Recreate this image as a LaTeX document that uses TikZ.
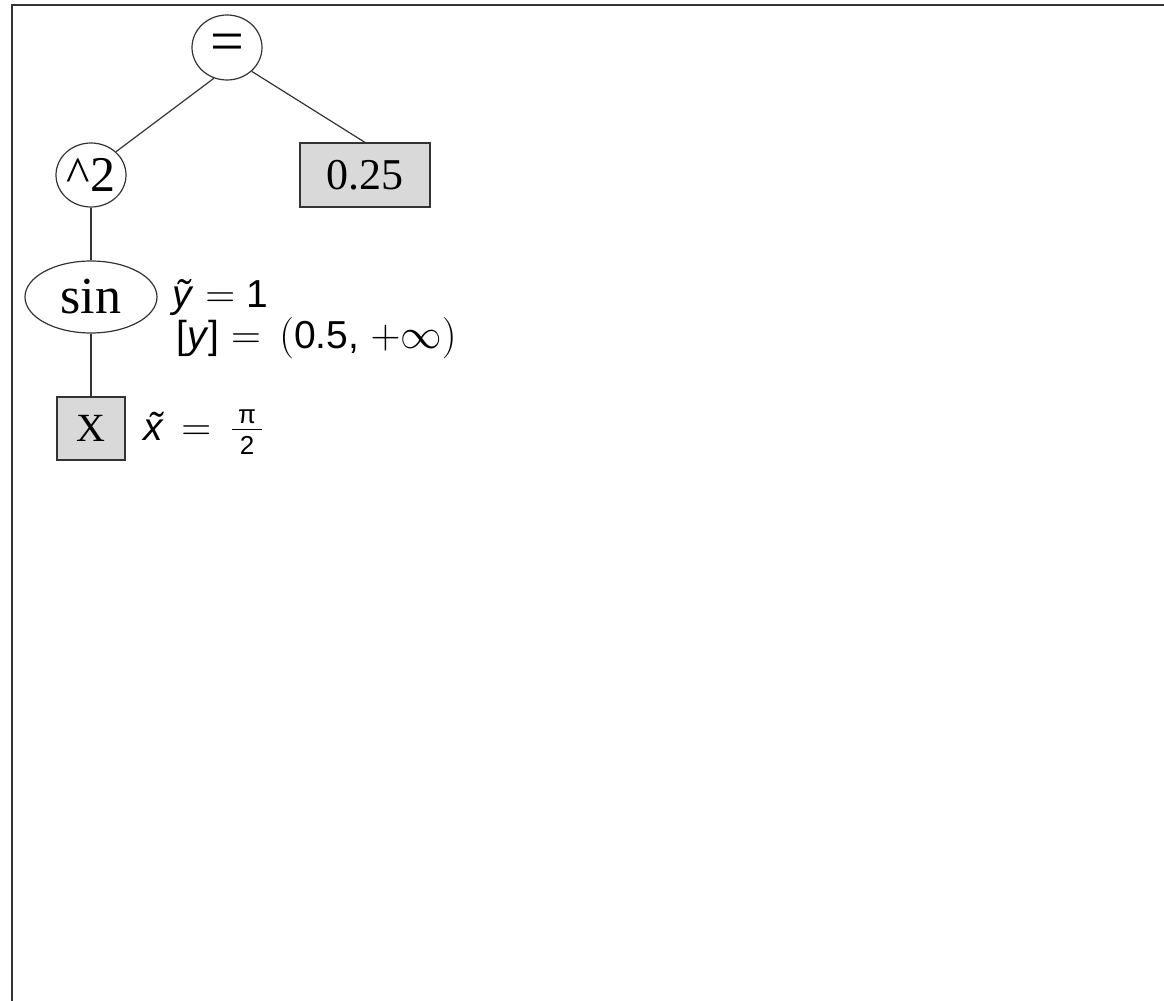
\documentclass[tikz,border=0pt]{standalone}
\usepackage{fontspec}
\setmainfont{Liberation Serif}
\newfontfamily\notefont{Liberation Sans}
\usetikzlibrary{shapes.geometric}
\definecolor{boxgray}{RGB}{217,217,217}
\definecolor{linegray}{RGB}{51,51,51}
\newcommand{\notesmall}[1]{\mbox{\hspace{3pt}\notefont\fontsize{13pt}{15pt}\selectfont #1\hspace{3pt}}}

\begin{document}
\begin{tikzpicture}[
  x=0.5pt,y=-0.5pt,
  opnode/.style={draw=linegray,ellipse,inner sep=0pt,line width=0.6pt},
  leafnode/.style={draw=linegray,fill=boxgray,inner sep=0pt,line width=0.6pt},
  treeline/.style={draw=linegray,line width=0.6pt},
  note/.style={anchor=base west,inner sep=0pt,align=left,font=\notefont\fontsize{19.5pt}{20.5pt}\selectfont},
]
\useasboundingbox (0,0) rectangle (1164,1001);
\draw[linegray,line width=1pt] (12,1001) -- (12,5) -- (1164,5);

\node[opnode,minimum width=35pt,minimum height=32.5pt,font=\fontsize{30pt}{32pt}\selectfont] (eq) at (227,47.5) {=};
\node[opnode,minimum width=35pt,minimum height=32pt,font=\fontsize{25pt}{30pt}\selectfont] (sq) at (91,175) {\textasciicircum 2};
\node[leafnode,minimum width=65pt,minimum height=32pt,font=\fontsize{22pt}{26pt}\selectfont] (num) at (365,175) {0.25};
\node[opnode,minimum width=66pt,minimum height=36pt,font=\fontsize{26pt}{30pt}\selectfont] (sinnode) at (91,297) {sin};
\node[leafnode,minimum width=34pt,minimum height=31.5pt,font=\fontsize{20pt}{24pt}\selectfont] (xvar) at (91,428.5) {X};

\draw[treeline] (eq.247) -- (sq.43);
\draw[treeline] (eq.-44) -- (num.north);
\draw[treeline] (sq) -- (sinnode);
\draw[treeline] (sinnode) -- (xvar);

\node[note] (ylbl) at (172,348) {\textit{ỹ}${}={}$1\\
  \hspace*{2pt}[\textit{y}]${}=\,{}($0.5,$\;+\infty)$};
\node[note] (xlbl) at (143,440) {\textit{\~{x}}${}\,=\,{}\frac{\notesmall{π}}{\notesmall{2}}$};
\end{tikzpicture}
\end{document}
